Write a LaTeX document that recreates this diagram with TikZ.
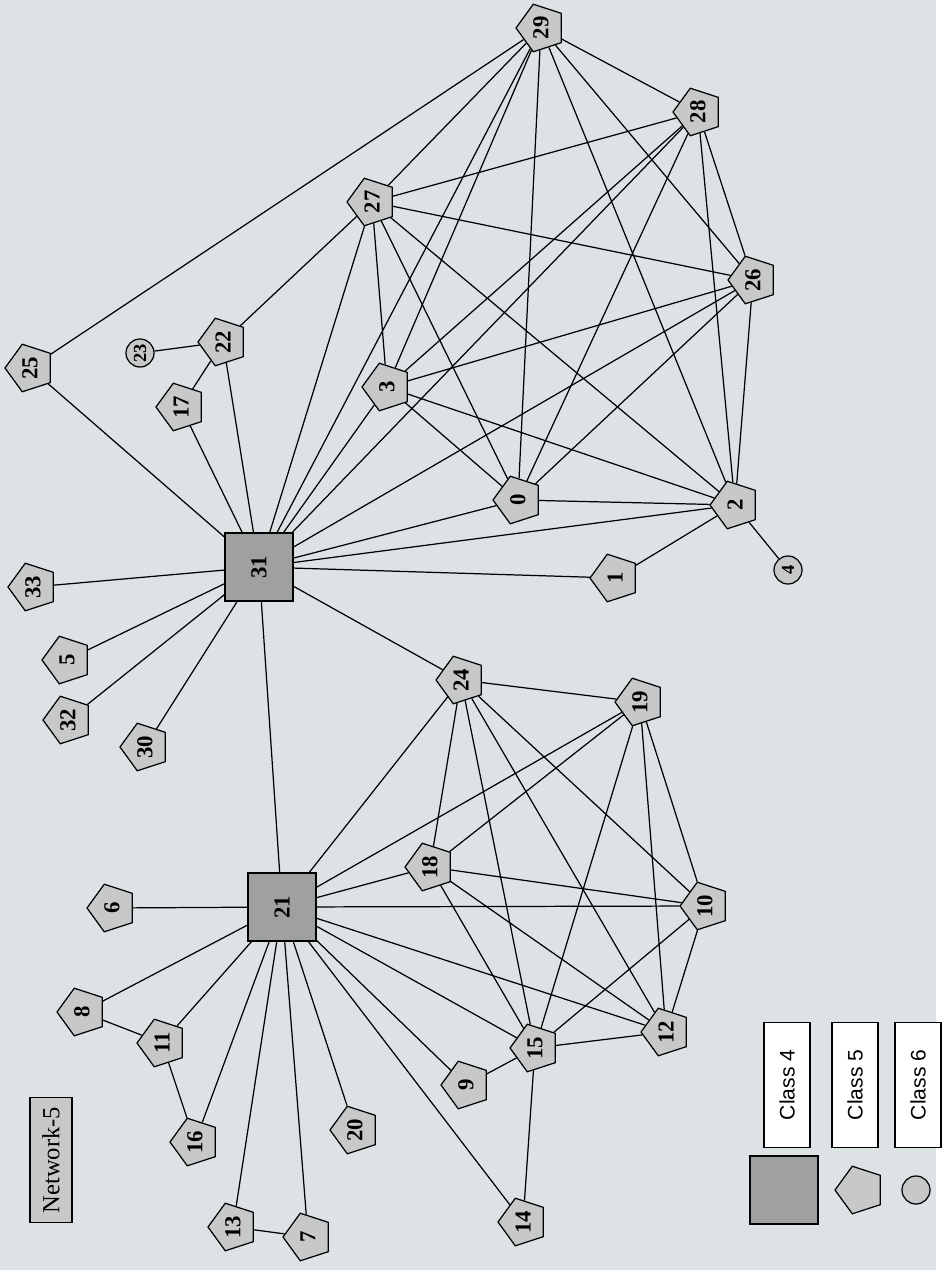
\documentclass[tikz,border=0pt]{standalone}
\usepackage{fontspec}
\setmainfont{Liberation Serif}
\setsansfont{Liberation Sans}
\usetikzlibrary{shapes.geometric}
\definecolor{bgcol}{RGB}{221,227,229}
\definecolor{pentgray}{RGB}{198,200,202}
\definecolor{boxgray}{RGB}{158,160,161}

\begin{document}
\begin{tikzpicture}[x=0.02cm, y=-0.02cm, line width=0.7pt,
  every node/.style={font=\fontsize{13}{15}\selectfont\bfseries, inner sep=0pt},
  cfour/.style={draw, fill=boxgray, minimum size=1.36cm, rotate=90},
  cfive/.style={draw, fill=pentgray, regular polygon, regular polygon sides=5, minimum size=1.0cm, rotate=90},
  csix/.style={draw, fill=pentgray, circle, minimum size=0.56cm, rotate=90, font=\fontsize{10.5}{12}\selectfont\bfseries},
  legbox/.style={draw, fill=white, minimum width=2.5cm, minimum height=0.92cm, rotate=90, font=\sffamily\fontsize{12}{14}\selectfont}]
\fill[bgcol] (0,0) rectangle (936,1270);

% hubs
\node[cfour] (n31) at (259,567) {31};
\node[cfour] (n21) at (282,907) {21};

% upper group
\node[cfive] (n29) at (541,28) {29};
\node[cfive] (n28) at (698,112) {28};
\node[cfive] (n26) at (753,280) {26};
\node[cfive] (n27) at (372,202) {27};
\node[cfive] (n3) at (387,387) {3};
\node[cfive] (n0) at (518,500) {0};
\node[cfive] (n2) at (735,505) {2};
\node[cfive] (n1) at (615,578) {1};
\node[csix] (n4) at (788,570) {4};
\node[cfive] (n25) at (30,368) {25};
\node[cfive] (n22) at (223,342) {22};
\node[csix] (n23) at (140,353) {23};
\node[cfive] (n17) at (181,407) {17};
\node[cfive] (n33) at (33,587) {33};
\node[cfive] (n5) at (67,660) {5};
\node[cfive] (n32) at (68,720) {32};
\node[cfive] (n30) at (145,747) {30};

% lower group
\node[cfive] (n24) at (461,680) {24};
\node[cfive] (n19) at (640,702) {19};
\node[cfive] (n18) at (430,867) {18};
\node[cfive] (n10) at (705,906) {10};
\node[cfive] (n12) at (666,1032) {12};
\node[cfive] (n15) at (535,1048) {15};
\node[cfive] (n9) at (466,1085) {9};
\node[cfive] (n14) at (523,1222) {14};
\node[cfive] (n6) at (112,908) {6};
\node[cfive] (n8) at (82,1012) {8};
\node[cfive] (n11) at (162,1043) {11};
\node[cfive] (n16) at (195,1142) {16};
\node[cfive] (n20) at (355,1130) {20};
\node[cfive] (n13) at (233,1227) {13};
\node[cfive] (n7) at (308,1237) {7};

% edges, upper group
\draw (n31) -- (n27) (n31) -- (n3) (n31) -- (n0) (n31) -- (n2) (n31) -- (n26) (n31) -- (n28) (n31) -- (n29);
\draw (n27) -- (n3) (n27) -- (n0) (n27) -- (n2) (n27) -- (n26) (n27) -- (n28) (n27) -- (n29);
\draw (n3) -- (n0) (n3) -- (n2) (n3) -- (n26) (n3) -- (n28) (n3) -- (n29);
\draw (n0) -- (n2) (n0) -- (n26) (n0) -- (n28) (n0) -- (n29);
\draw (n2) -- (n26) (n2) -- (n28) (n2) -- (n29);
\draw (n26) -- (n28) (n26) -- (n29) (n28) -- (n29);
\draw (n31) -- (n25) (n31) -- (n17) (n31) -- (n22) (n31) -- (n33) (n31) -- (n5) (n31) -- (n32) (n31) -- (n30) (n31) -- (n1);
\draw (n25) -- (n29) (n22) -- (n27) (n22) -- (n23) (n22) -- (n17) (n1) -- (n2) (n2) -- (n4);
\draw (n31) -- (n21) (n31) -- (n24);

% edges, lower group
\draw (n21) -- (n24) (n21) -- (n19) (n21) -- (n18) (n21) -- (n10) (n21) -- (n12) (n21) -- (n15);
\draw (n24) -- (n19) (n24) -- (n18) (n24) -- (n10) (n24) -- (n12) (n24) -- (n15);
\draw (n19) -- (n18) (n19) -- (n10) (n19) -- (n12) (n19) -- (n15);
\draw (n18) -- (n10) (n18) -- (n12) (n18) -- (n15);
\draw (n10) -- (n12) (n10) -- (n15) (n12) -- (n15);
\draw (n21) -- (n6) (n21) -- (n8) (n21) -- (n11) (n21) -- (n16) (n21) -- (n13) (n21) -- (n7) (n21) -- (n20) (n21) -- (n9) (n21) -- (n14);
\draw (n8) -- (n11) (n11) -- (n16) (n13) -- (n7) (n9) -- (n15) (n14) -- (n15);

% title and legend
\node[draw, fill=pentgray, minimum width=2.5cm, minimum height=0.84cm, rotate=90, font=\fontsize{14}{16}\selectfont] (title) at (51,1160) {Network-5};
\node[cfour] (key4) at (784,1190) {};
\node[cfive] (key5) at (860,1190) {};
\node[csix] (key6) at (916,1190) {};
\node[legbox] (lab4) at (787,1085) {Class 4};
\node[legbox] (lab5) at (855,1085) {Class 5};
\node[legbox] (lab6) at (918,1085) {Class 6};
\end{tikzpicture}
\end{document}
